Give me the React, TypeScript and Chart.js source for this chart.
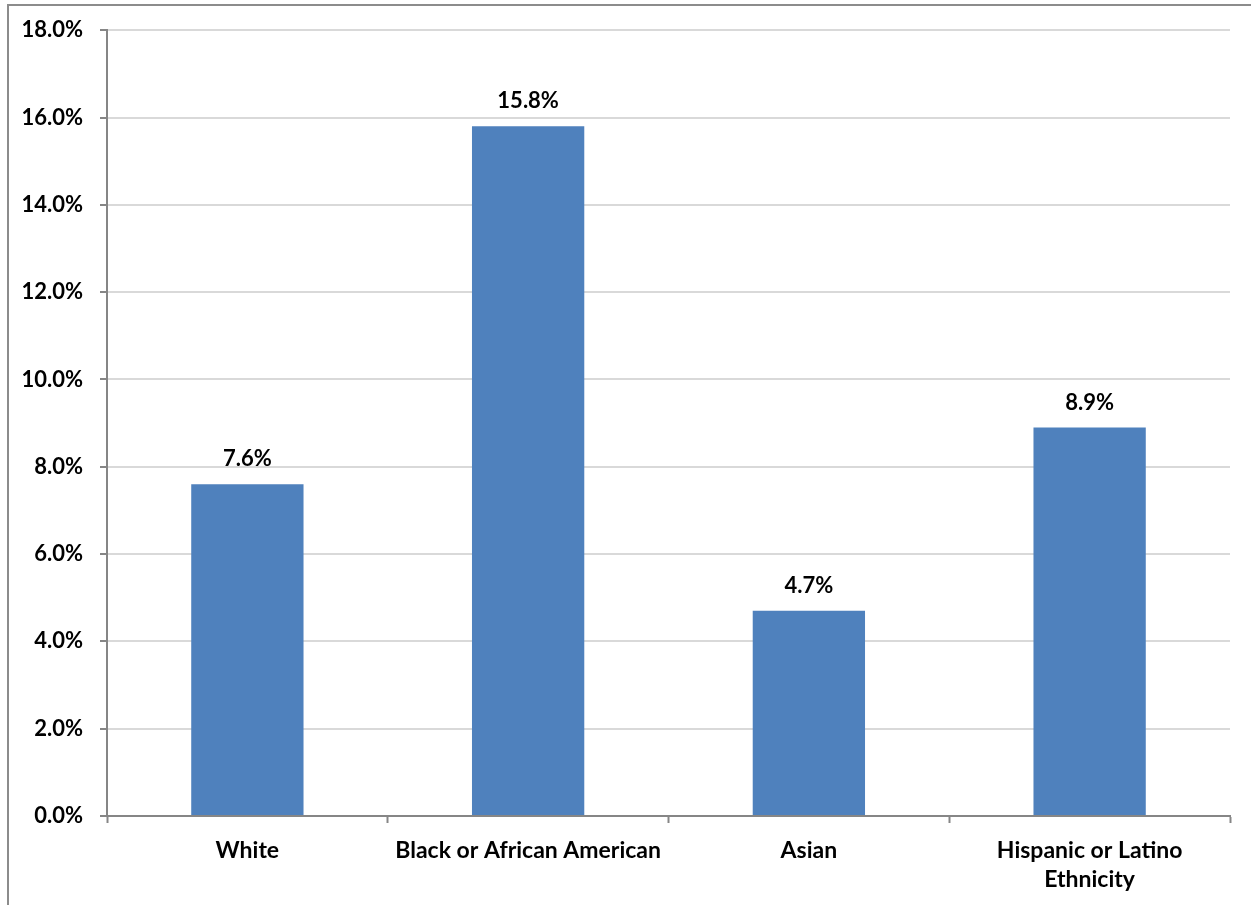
import React, { useEffect, useRef } from "react";
import { Chart, registerables } from "chart.js";

Chart.register(...registerables);

const categories: (string | string[])[] = [
  "White",
  "Black or African American",
  "Asian",
  ["Hispanic or Latino", "Ethnicity"],
];
const values: number[] = [7.6, 15.8, 4.7, 8.9];
const yTicks: number[] = [0, 2, 4, 6, 8, 10, 12, 14, 16, 18];

const FONT = "Lato, 'Open Sans', sans-serif";
const BAR = "#4F81BD";
const AXIS = "#868686";
const GRID = "#D9D9D9";

const valueLabels = {
  id: "valueLabels",
  afterDatasetsDraw(chart: any) {
    const ctx = chart.ctx;
    const meta = chart.getDatasetMeta(0);
    ctx.save();
    ctx.font = `bold 22px ${FONT}`;
    ctx.fillStyle = "#000";
    ctx.textAlign = "center";
    ctx.textBaseline = "middle";
    meta.data.forEach((bar: any, i: number) => {
      ctx.fillText(values[i].toFixed(1) + "%", bar.x, bar.y - 25);
    });
    ctx.restore();
  },
};

export default function App() {
  const ref = useRef<HTMLCanvasElement>(null);
  useEffect(() => {
    const chart = new Chart(ref.current!, {
      type: "bar",
      data: {
        labels: categories,
        datasets: [
          {
            data: values,
            backgroundColor: BAR,
            borderWidth: 0,
            barPercentage: 0.4,
            categoryPercentage: 1,
          },
        ],
      },
      options: {
        responsive: false,
        animation: false,
        layout: { padding: { top: 29, right: 21, bottom: 0, left: 1 } },
        plugins: { legend: { display: false }, tooltip: { enabled: false } },
        scales: {
          x: {
            afterFit: (s: any) => {
              s.height = 89;
            },
            grid: {
              offset: true,
              drawOnChartArea: false,
              drawTicks: true,
              tickLength: 7,
              tickColor: AXIS,
              tickWidth: 2,
            },
            border: { color: AXIS, width: 2 },
            ticks: {
              color: "#000",
              font: { family: FONT, size: 23, weight: "bold", lineHeight: 1.22 },
              padding: 14,
              maxRotation: 0,
              autoSkip: false,
            },
          },
          y: {
            min: 0,
            max: 18,
            afterFit: (s: any) => {
              s.width = 106;
            },
            afterBuildTicks: (s: any) => {
              s.ticks = yTicks.map((v) => ({ value: v }));
            },
            grid: {
              color: GRID,
              lineWidth: 2,
              drawTicks: true,
              tickLength: 7,
              tickColor: AXIS,
              tickWidth: 2,
            },
            border: { color: AXIS, width: 2 },
            ticks: {
              color: "#000",
              font: { family: FONT, size: 22, weight: "bold" },
              padding: 17,
              callback: (v: any) => Number(v).toFixed(1) + "%",
            },
          },
        },
      },
      plugins: [valueLabels],
    });
    return () => chart.destroy();
  }, []);
  return (
    <div style={{ position: "fixed", left: 0, top: 0, width: 1251, height: 905, background: "#fff", overflow: "hidden" }}>
      <div
        style={{
          position: "absolute",
          left: 7,
          top: 4,
          width: 1300,
          height: 1000,
          border: "2px solid #8C8C8C",
          boxSizing: "border-box",
        }}
      />
      <canvas ref={ref} width={1251} height={905} style={{ position: "absolute", left: 0, top: 0 }} />
    </div>
  );
}
